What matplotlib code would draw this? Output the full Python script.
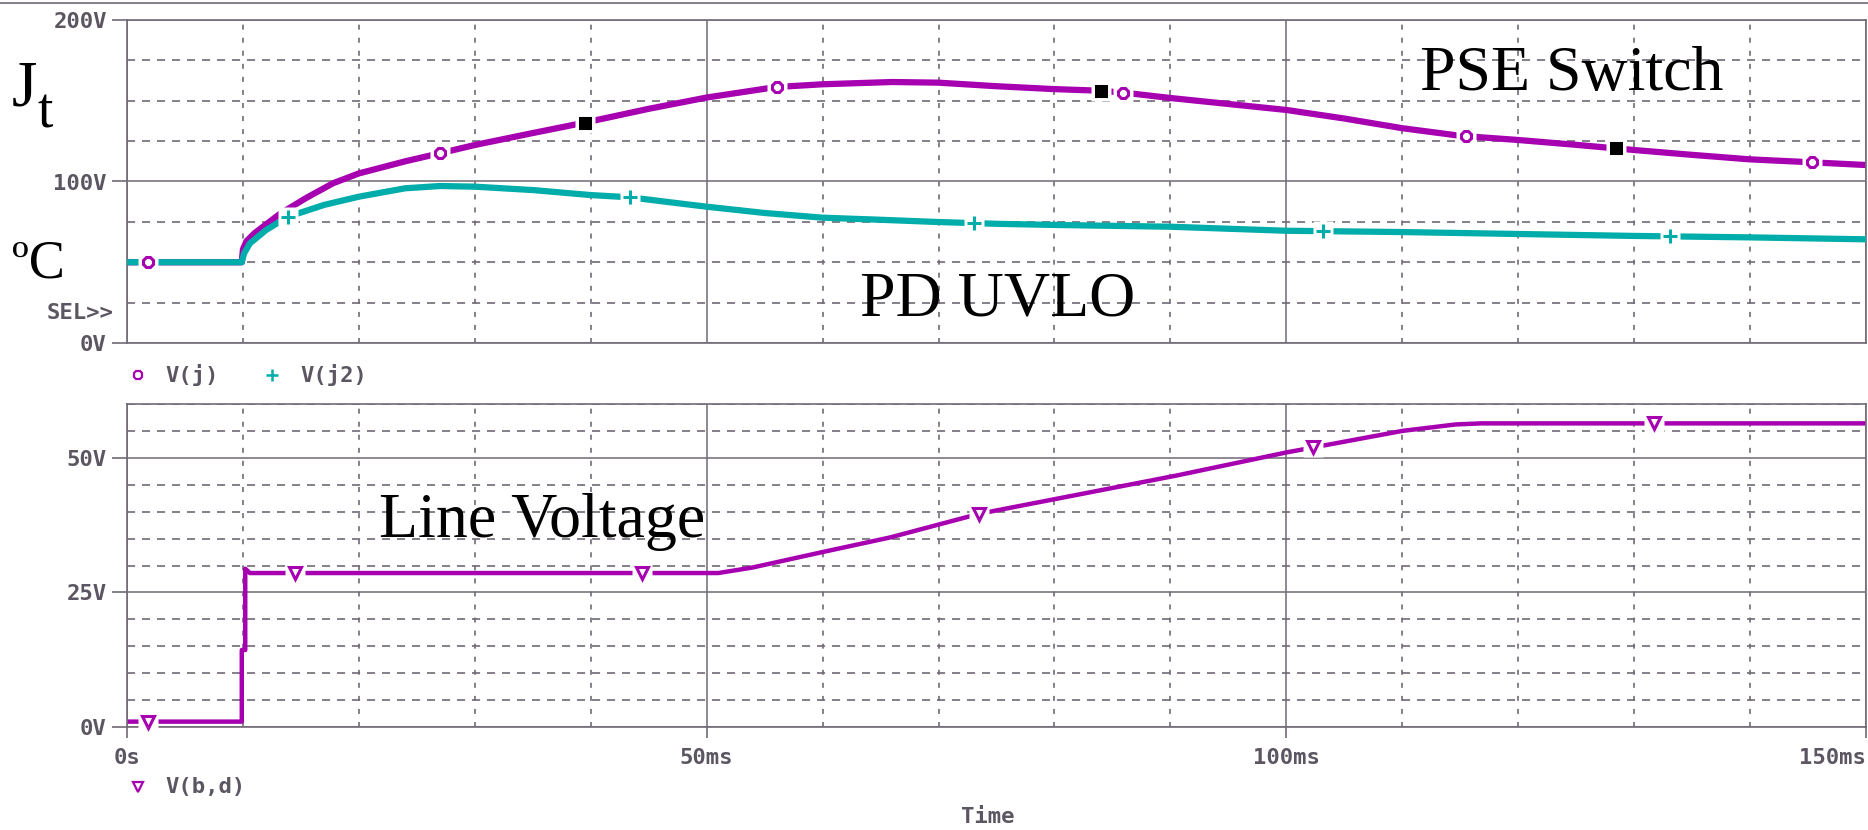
import numpy as np
import matplotlib.pyplot as plt
from matplotlib.lines import Line2D

plt.rcParams['lines.scale_dashes'] = False

# V(j) - PSE switch temperature (ms, V)
t_j = [0, 9.9, 10.0, 10.3, 11, 13.2, 15.5, 17.8, 20, 24, 27, 30, 35, 39.5, 45, 50,
       56, 60, 66, 70, 75, 80, 84, 86, 90, 95, 100, 105, 110, 115, 120, 125, 130,
       135, 140, 145, 150]
v_j = [50, 50, 58, 63, 68, 80, 90, 99, 105, 112.5, 117.5, 122.6, 130, 136.5, 145, 152,
       158.5, 160.2, 161.6, 161.2, 159, 157.2, 156.2, 155, 151.7, 148, 144.3, 139, 133,
       128.3, 125.7, 122.7, 119.5, 116.5, 113.7, 112, 110.2]

# V(j2) - PD UVLO temperature
t_j2 = [0, 9.9, 10.1, 10.6, 12, 13.9, 17, 20, 24, 27, 30, 35, 40, 43.4, 47, 50, 55,
        60, 65, 70, 75, 80, 90, 100, 110, 120, 130, 140, 150]
v_j2 = [50, 50, 55.5, 61.7, 70, 78.2, 85.5, 90.6, 95.8, 97.2, 96.8, 94.7, 91.6, 90.2,
        87, 84.4, 80.5, 77.6, 76.3, 74.9, 73.8, 73.1, 72, 69.5, 68.7, 67.5, 66.3, 65.4,
        64.2]

# V(b,d) - line voltage
t_bd = [0, 9.9, 9.9, 10.2, 10.2, 10.6, 51, 53.9, 60, 65.8, 73.5, 80.2, 90.5, 100,
        110, 114.6, 116.8, 150]
v_bd = [1, 1, 14.3, 14.3, 29.4, 28.6, 28.6, 29.6, 32.5, 35.2, 39.6, 42.4, 46.7, 51,
        55, 56.2, 56.4, 56.4]

# marker positions along the traces (ms)
mk_j = [1.8, 27, 56.1, 85.9, 115.5, 145.3]
mk_cursor = [39.5, 84, 128.4]
mk_j2 = [13.9, 43.4, 73.1, 103.2, 133.1]
mk_bd = [1.8, 14.5, 44.4, 73.5, 102.3, 131.7]

x_ticks = [0, 50, 100, 150]
x_labels = ['0s', '50ms', '100ms', '150ms']
top_ticks = [0, 100, 200]
top_labels = ['0V', '100V', '200V']
bot_ticks = [0, 25, 50]
bot_labels = ['0V', '25V', '50V']

magenta = '#a600b0'
teal = '#00adaa'
gray = '#706a74'
txt_gray = '#5c5662'
mono = dict(family='DejaVu Sans Mono', weight='bold', color=txt_gray, size=16)
serif = dict(family='Liberation Serif', color='black')

W, H = 1868, 830
fig = plt.figure(figsize=(W / 100, H / 100), dpi=100)


def fx(px):
    return px / W


def fy(py):
    return 1 - py / H


ax1 = fig.add_axes([fx(127), fy(343), (1866 - 127) / W, (343 - 20) / H])
ax2 = fig.add_axes([fx(127), fy(727), (1866 - 127) / W, (727 - 404) / H])


def style(ax, ymax, yticks, ylabels, ystep, show_x):
    ax.set_xlim(0, 150)
    ax.set_ylim(0, ymax)
    ax.set_xticks(x_ticks)
    ax.set_xticks(np.arange(0, 151, 10), minor=True)
    ax.set_yticks(yticks)
    ax.set_yticks(np.arange(0, ymax + 0.1, ystep), minor=True)
    ax.set_yticklabels(ylabels, **mono)
    if show_x:
        ax.set_xticklabels(x_labels, **mono)
        ax.get_xticklabels()[-1].set_horizontalalignment('right')
        ax.tick_params(axis='x', which='major', length=8, width=1.2, color=gray, pad=7)
    else:
        ax.tick_params(axis='x', which='major', length=0, labelbottom=False)
    ax.tick_params(axis='y', which='major', length=11, width=1.2, color=gray, pad=3.5)
    ax.tick_params(which='minor', length=0)
    ax.grid(which='major', color=gray, lw=1.1, ls='-')
    ax.grid(which='minor', axis='x', color=gray, lw=1.2, ls=(0, (3.6, 5.8)))
    ax.grid(which='minor', axis='y', color=gray, lw=1.2, ls=(0, (5.8, 5.0)))
    ax.set_axisbelow(True)
    for s in ax.spines.values():
        s.set_color(gray)
        s.set_linewidth(1.2)


def markers(ax, ts, t, v, marker, color, ms, mfc='white'):
    ys = np.interp(ts, t, v)
    ax.plot(ts, ys, ls='none', marker='s', ms=15, mfc='white', mec='none', zorder=4,
            clip_on=False)
    ax.plot(ts, ys, ls='none', marker=marker, ms=ms, mfc=mfc, mec=color, mew=2.2,
            zorder=5, clip_on=False)


style(ax1, 200, top_ticks, top_labels, 25, False)
style(ax2, 60, bot_ticks, bot_labels, 5, True)

ax1.plot(t_j, v_j, color=magenta, lw=4.5, solid_capstyle='butt', zorder=2)
ax1.plot(t_j2, v_j2, color=teal, lw=4.5, solid_capstyle='butt', zorder=3)
markers(ax1, mk_j, t_j, v_j, '8', magenta, 8)
markers(ax1, mk_cursor, t_j, v_j, 's', 'black', 7, mfc='black')
markers(ax1, mk_j2, t_j2, v_j2, '+', teal, 10)

ax2.plot(t_bd, v_bd, color=magenta, lw=3.2, zorder=2)
markers(ax2, mk_bd, t_bd, v_bd, 'v', magenta, 9)

# legends in PSpice style
fig.add_artist(Line2D([fx(138)], [fy(375)], marker='8', ms=6, mfc='white', mec=magenta,
                      mew=1.6, transform=fig.transFigure))
fig.text(fx(165), fy(375), 'V(j)', va='center', ha='left', **mono)
fig.add_artist(Line2D([fx(272)], [fy(375)], marker='+', ms=9, mec=teal, mew=1.8,
                      transform=fig.transFigure))
fig.text(fx(300), fy(375), 'V(j2)', va='center', ha='left', **mono)
fig.add_artist(Line2D([fx(138)], [fy(787)], marker='v', ms=7, mfc='white', mec=magenta,
                      mew=1.6, transform=fig.transFigure))
fig.text(fx(165), fy(787), 'V(b,d)', va='center', ha='left', **mono)
fig.text(fx(113), fy(313), 'SEL>>', va='center', ha='right', **mono)
fig.text(fx(988), fy(817), 'Time', va='center', ha='center', **mono)

# frame line along the top
fig.add_artist(Line2D([0, 1], [fy(3), fy(3)], color=gray, lw=1.2, transform=fig.transFigure))

# annotations
fig.text(fx(1420), fy(90), 'PSE Switch', size=46, va='baseline', **serif)
fig.text(fx(860), fy(316), 'PD UVLO', size=46, va='baseline', **serif)
fig.text(fx(379), fy(537), 'Line Voltage', size=46, va='baseline', **serif)
fig.text(fx(12), fy(105), 'J', size=47, va='baseline', **serif)
fig.text(fx(37), fy(127), 't', size=40, va='baseline', **serif)
fig.text(fx(12), fy(277), 'ºC', size=39, va='baseline', **serif)

fig.savefig('out.png', dpi=100)
